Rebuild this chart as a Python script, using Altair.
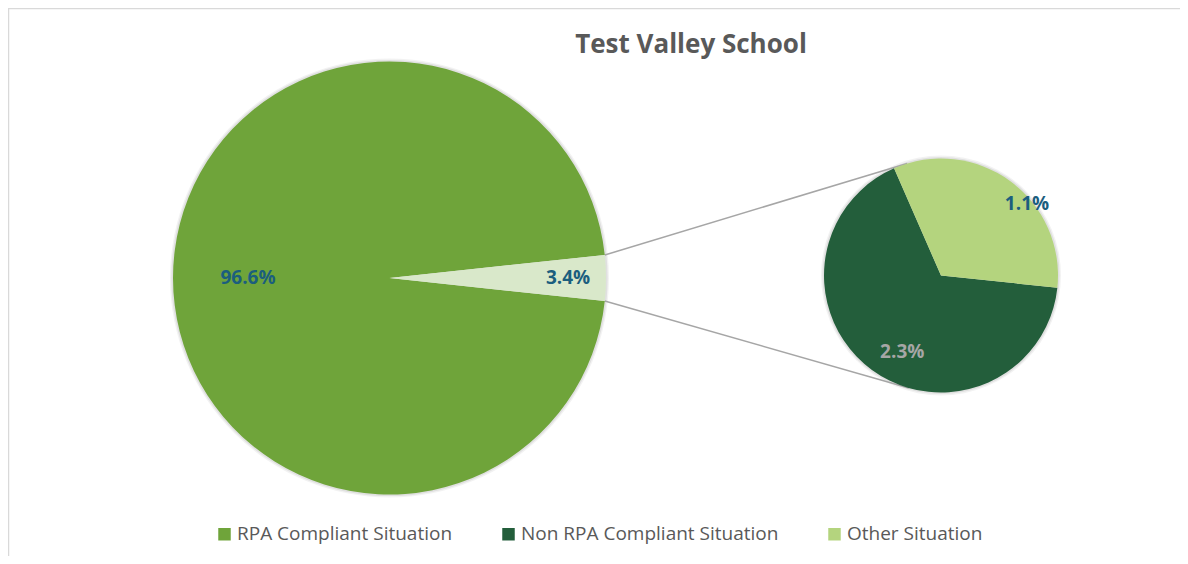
import math
import altair as alt
import pandas as pd

# ---- data -------------------------------------------------------------
categories = ["RPA Compliant Situation", "Non RPA Compliant Situation", "Other Situation"]
shares = [96.6, 2.27, 1.13]
colors = ["#6fa43a", "#235e3b", "#b4d47e"]
rest_name = "Non RPA + Other"
rest_color = "#d9e8ca"
title_text = "Test Valley School"

# ---- layout -----------------------------------------------------------
W, H = 1172, 548
C1 = (381.5, 270.0)
R1 = 216.5
C2 = (933.0, 267.5)
R2 = 117.0
SUB_START_DEG = 96.0

rest = shares[1] + shares[2]
main_df = pd.DataFrame({"cat": [categories[0], rest_name],
                        "value": [shares[0], rest], "order": [0, 1]})
sub_df = pd.DataFrame({"cat": categories[1:], "value": shares[1:], "order": [0, 1]})

half = rest / 100.0 * math.pi  # half wedge angle (rad)
main_start = math.pi / 2 + half
sub_start = math.radians(SUB_START_DEG)

color = alt.Color(
    "cat:N",
    scale=alt.Scale(domain=categories + [rest_name], range=colors + [rest_color]),
    legend=alt.Legend(values=categories, title=None, orient="none", direction="horizontal",
                      legendX=207, legendY=516.5, symbolType="square", symbolSize=156,
                      symbolStrokeWidth=0, labelFont="Open Sans", labelFontSize=19,
                      labelColor="#595959", columnPadding=46, labelOffset=3, padding=0,
                      labelLimit=0),
)

one_row = pd.DataFrame({"k": [0]})


def shadow(center, r):
    rings = []
    for extra, op in [(3.0, 0.05), (1.6, 0.07)]:
        rings.append(
            alt.Chart(one_row).mark_arc(radius=r + extra, theta=0, theta2=2 * math.pi,
                                        color="#000000", opacity=op).encode(
                x=alt.value(center[0]), y=alt.value(center[1]))
        )
    return rings


def pie(df, center, r, start, labels):
    theta = alt.Theta("value:Q", stack=True, scale=alt.Scale(range=[start, start + 2 * math.pi]))
    base = alt.Chart(df).transform_calculate(
        label="format(datum.value, '.1f') + '%'"
    )
    arc = base.mark_arc(radius=r, strokeWidth=0).encode(
        theta=theta, color=color, order=alt.Order("order:Q"),
        x=alt.value(center[0]), y=alt.value(center[1]),
    )
    layers = [arc]
    for cat, rad, dx, dy, col in labels:
        layers.append(
            base.mark_text(radius=rad, dx=dx, dy=dy, font="Open Sans", fontSize=19,
                           fontWeight="bold", color=col).encode(
                theta=theta, order=alt.Order("order:Q"),
                x=alt.value(center[0]), y=alt.value(center[1]),
                text=alt.condition(alt.datum.cat == cat, alt.Text("label:N"), alt.value("")),
            )
        )
    return alt.layer(*layers)


main_pie = pie(main_df, C1, R1, main_start, [
    (categories[0], 141.5, 0, 0, "#1b5e7e"),
    (rest_name, 178.5, 0, 0, "#1b5e7e"),
])
sub_pie = pie(sub_df, C2, R2, sub_start, [
    (categories[2], 111.8, 20, 19, "#1b5e7e"),
    (categories[1], 86, 12, 7.5, "#a6a6a6"),
])


# ---- connector lines (tangents from wedge ends to the second pie) -----
def tangent(P, C, r, sign):
    dx, dy = P[0] - C[0], P[1] - C[1]
    d = math.hypot(dx, dy)
    ang = math.atan2(dy, dx) + sign * math.acos(r / d)
    return (C[0] + r * math.cos(ang), C[1] + r * math.sin(ang))


p_top = (C1[0] + R1 * math.cos(half), C1[1] - R1 * math.sin(half))
p_bot = (C1[0] + R1 * math.cos(half), C1[1] + R1 * math.sin(half))
t_top = tangent(p_top, C2, R2, 1)
t_bot = tangent(p_bot, C2, R2, -1)
lines_df = pd.DataFrame({
    "x": [p_top[0], p_bot[0]], "y": [p_top[1], p_bot[1]],
    "x2": [t_top[0], t_bot[0]], "y2": [t_top[1], t_bot[1]],
})
connectors = alt.Chart(lines_df).mark_rule(color="#a6a6a6", strokeWidth=1.5).encode(
    x=alt.X("x:Q", scale=None), y=alt.Y("y:Q", scale=None),
    x2="x2:Q", y2="y2:Q",
)

# ---- chart frame (top and left edges visible) ---------------------------
frame_top = alt.Chart(one_row).mark_rule(color="#d9d9d9", strokeWidth=1.5).encode(
    x=alt.value(0), x2=alt.value(W), y=alt.value(0.5))
frame_left = alt.Chart(one_row).mark_rule(color="#d9d9d9", strokeWidth=1.5).encode(
    x=alt.value(0.5), y=alt.value(0), y2=alt.value(H))

chart = alt.layer(
    frame_top, frame_left, *shadow(C1, R1), *shadow(C2, R2), connectors, main_pie, sub_pie
).resolve_scale(theta="independent").properties(
    width=W, height=H, padding=0,
    autosize=alt.AutoSizeParams(type="none"),
    title=alt.TitleParams(title_text, anchor="middle", dx=97, dy=26, offset=-46, frame="group",
                          baseline="alphabetic", font="Open Sans", fontSize=26,
                          fontWeight="bold", color="#595959"),
).configure_view(stroke=None).configure(background="white")

chart.save("out.html", embed_options={"renderer": "svg", "actions": False})
